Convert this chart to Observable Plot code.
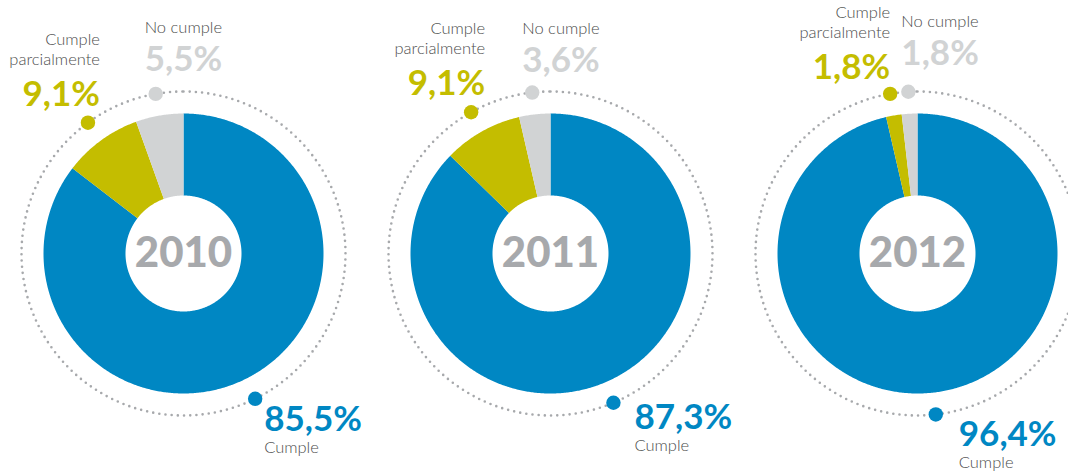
<!DOCTYPE html>
<html><head><meta charset="utf-8">
<script src="https://cdn.jsdelivr.net/npm/d3@7"></script>
<script src="https://cdn.jsdelivr.net/npm/@observablehq/plot@0.6"></script>
<style>body{margin:0;background:#fff} #chart svg{display:block}</style>
</head><body><div id="chart"></div>
<script>
// ---- data ----
const years = ["2010", "2011", "2012"];
const categories = ["Cumple", "Cumple parcialmente", "No cumple"];
const cumple = [85.5, 87.3, 96.4];
const parcial = [9.1, 9.1, 1.8];
const noCumple = [5.5, 3.6, 1.8];

// ---- styles / layout ----
const colors = {"Cumple": "#0087c3", "Cumple parcialmente": "#c4bd00", "No cumple": "#d1d3d4"};
const W = 1068, H = 472;
const centersX = [183, 550, 917], cy = 253;
const rOut = 140, rIn = 58, rRing = 162;
// label offsets relative to each category's dot, per year
const labelLayout = {
  "Cumple":              {anchor: "start", dx: [9, 21, 23], dy: [32, 26, 32], nameDy: 22, nameLabel: "Cumple"},
  "Cumple parcialmente": {anchor: "end",   dx: [12, 14, 0],  dy: [-17, -17, -15], nameDy: -41, nameLabel: "Cumple\nparcialmente"},
  "No cumple":           {anchor: "start", dx: [-11, -10, -7], dy: [-23, -21, -27], nameDy: -38, nameLabel: "No cumple"}
};

const fmt = v => v.toFixed(1).replace(".", ",") + "%";
const pt = (cx, r, a) => ({x: cx + r * Math.sin(a), y: cy - r * Math.cos(a)});

const series = {"Cumple": cumple, "Cumple parcialmente": parcial, "No cumple": noCumple};
const slices = [];   // polygon vertices
const dots = [];     // mid-angle markers on the ring
const ring = [];
years.forEach((year, i) => {
  const cx = centersX[i];
  const total = categories.reduce((s, c) => s + series[c][i], 0);
  let a0 = 0;
  categories.forEach(c => {
    const v = series[c][i];
    const a1 = a0 + v / total * 2 * Math.PI;
    const n = Math.max(2, Math.ceil((a1 - a0) / (Math.PI / 360)));
    const key = year + "|" + c;
    for (let k = 0; k <= n; k++) slices.push({key, cat: c, ...pt(cx, rOut, a0 + (a1 - a0) * k / n)});
    for (let k = n; k >= 0; k--) slices.push({key, cat: c, ...pt(cx, rIn, a0 + (a1 - a0) * k / n)});
    const am = (a0 + a1) / 2;
    const p = pt(cx, rRing, am);
    const L = labelLayout[c];
    dots.push({year, cat: c, value: v, ...p,
      lx: p.x + L.dx[i], ly: p.y + L.dy[i], ny: p.y + L.dy[i] + L.nameDy,
      anchor: L.anchor, name: L.nameLabel});
    a0 = a1;
  });
  for (let k = 0; k <= 720; k++) ring.push({year, ...pt(cx, rRing, k / 720 * 2 * Math.PI)});
});
const centers = years.map((year, i) => ({year, x: centersX[i], y: cy}));

const marks = [];
categories.forEach(c => {
  marks.push(Plot.line(slices.filter(d => d.cat === c), {x: "x", y: "y", z: "key", fill: colors[c], stroke: "none"}));
});
marks.push(Plot.line(ring, {x: "x", y: "y", z: "year", stroke: "#a7a9ac", strokeWidth: 2.6,
  strokeDasharray: "0 6.2", strokeLinecap: "round"}));
marks.push(Plot.dot(dots, {x: "x", y: "y", r: 7.2, fill: d => colors[d.cat], stroke: "none"}));
marks.push(Plot.text(centers, {x: "x", y: "y", text: "year", fill: "#a7a9ac", fontSize: 42,
  fontWeight: 900, textAnchor: "middle", lineAnchor: "middle", ariaLabel: "year"}));
["start", "end"].forEach(anchor => {
  const ds = dots.filter(d => d.anchor === anchor);
  marks.push(Plot.text(ds, {x: "lx", y: "ly", text: d => fmt(d.value), fill: d => colors[d.cat],
    fontSize: 35, fontWeight: 700, textAnchor: anchor, lineAnchor: "bottom"}));
  marks.push(Plot.text(ds, {x: "lx", y: "ny", text: "name", fill: "#4d4d4d", fontSize: 16.5,
    fontWeight: 300, textAnchor: anchor, lineAnchor: "bottom", lineHeight: 1.22}));
});

const chart = Plot.plot({
  width: W, height: H, margin: 0,
  x: {domain: [0, W], range: [0, W], axis: null},
  y: {domain: [0, H], range: [0, H], axis: null},
  color: {type: "identity"},
  style: {fontFamily: "Lato, 'Open Sans', sans-serif", background: "#fff", overflow: "visible"},
  marks
});
d3.select(chart).selectAll('g[aria-label="year"] text')
  .attr("textLength", 72).attr("lengthAdjust", "spacingAndGlyphs");
document.getElementById("chart").appendChild(chart);
</script>
</body></html>
